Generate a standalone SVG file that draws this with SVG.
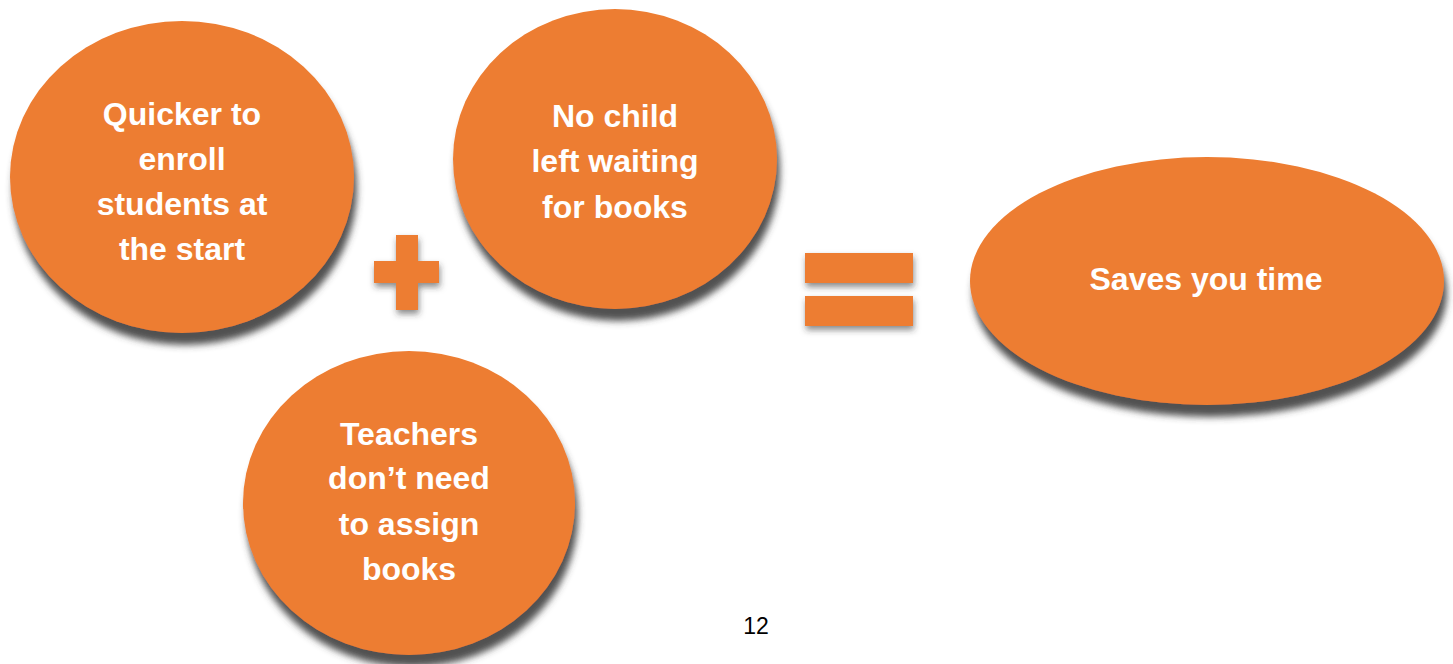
<svg xmlns="http://www.w3.org/2000/svg" width="1453" height="664" viewBox="0 0 1453 664">
<defs>
<filter id="sh" x="-20%" y="-20%" width="140%" height="150%">
<feDropShadow dx="3" dy="12" stdDeviation="3.5" flood-color="#3c3c3c" flood-opacity="0.9"/>
</filter>
<filter id="sh2" x="-30%" y="-30%" width="160%" height="170%">
<feDropShadow dx="1" dy="4" stdDeviation="3" flood-color="#333" flood-opacity="0.55"/>
</filter>
<style>
.shape{fill:#ED7D31}
.lbl{font-family:"Liberation Sans",Arial,sans-serif;font-weight:bold;font-size:32px;fill:#fff;text-anchor:middle}
.pg{font-family:"Liberation Sans",Arial,sans-serif;font-size:23px;fill:#000;text-anchor:middle}
</style>
</defs>
<rect width="1453" height="664" fill="#fff"/>
<g id="node-quicker">
<ellipse class="shape" cx="182" cy="177" rx="172" ry="156" filter="url(#sh)"/>
<text class="lbl"><tspan x="182" y="125">Quicker to</tspan><tspan x="182" y="170">enroll</tspan><tspan x="182" y="215">students at</tspan><tspan x="182" y="260">the start</tspan></text>
</g>
<g id="node-nochild">
<ellipse class="shape" cx="615" cy="159" rx="162" ry="150" filter="url(#sh)"/>
<text class="lbl"><tspan x="615" y="127">No child</tspan><tspan x="615" y="172">left waiting</tspan><tspan x="615" y="218">for books</tspan></text>
</g>
<g id="node-teachers">
<ellipse class="shape" cx="409" cy="503" rx="166" ry="152" filter="url(#sh)"/>
<text class="lbl"><tspan x="409" y="445">Teachers</tspan><tspan x="409" y="489">don’t need</tspan><tspan x="409" y="535">to assign</tspan><tspan x="409" y="580">books</tspan></text>
</g>
<g id="node-saves">
<ellipse class="shape" cx="1207" cy="281" rx="237" ry="124" filter="url(#sh)"/>
<text class="lbl" x="1206" y="290">Saves you time</text>
</g>
<g id="connectors">
<path class="shape" filter="url(#sh2)" d="M396 235H418V261H439V283H418V310H396V283H374V261H396Z"/>
<g filter="url(#sh2)">
<rect class="shape" x="805" y="253" width="108" height="30"/>
<rect class="shape" x="805" y="296" width="108" height="30"/>
</g>
</g>
<text class="pg" x="756" y="634">12</text>
</svg>
